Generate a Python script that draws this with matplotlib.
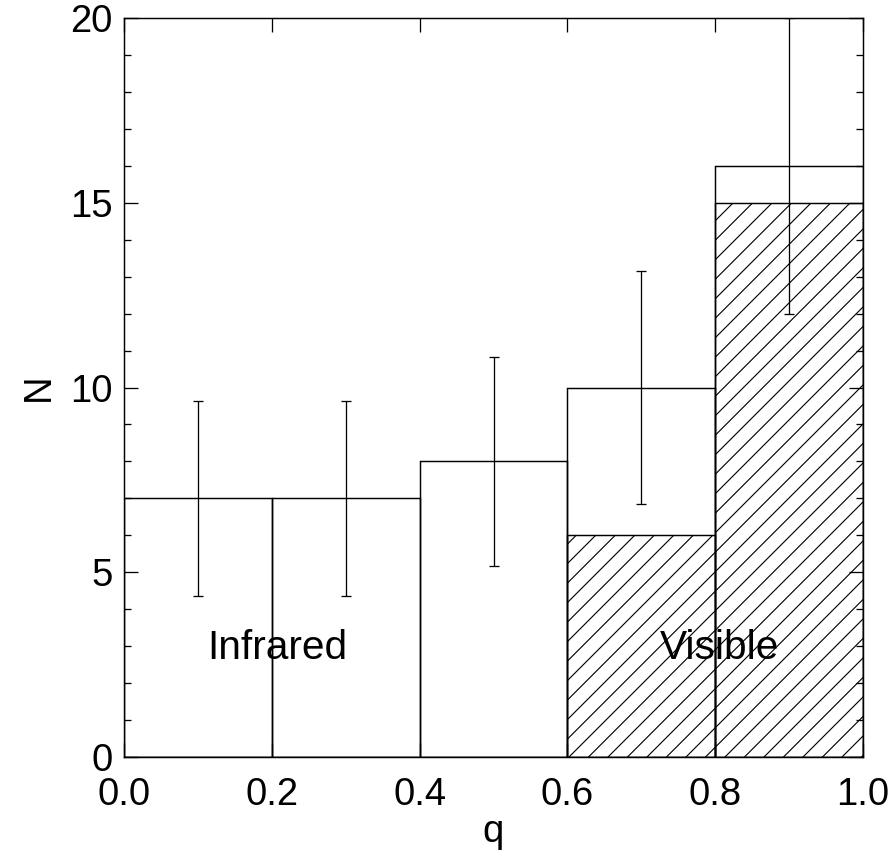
"""
Mass-ratio histogram: all systems with Poisson errors, visible subset hatched.
"""

import numpy as np
import matplotlib
matplotlib.use('Agg')
import matplotlib.pyplot as plt

# histogram bins in q
bin_left = [0.0, 0.2, 0.4, 0.6, 0.8]
bin_width = 0.2
n_total = [7, 7, 8, 10, 16]
n_visible = [0, 0, 0, 6, 15]

plt.rcParams['font.family'] = ['Liberation Sans', 'DejaVu Sans']
plt.rcParams['hatch.linewidth'] = 0.7

fig = plt.figure(figsize=(893 / 117, 858 / 117), dpi=117)
ax = fig.add_axes([0.1389, 0.1177, 0.8275, 0.8613])

# all systems, open boxes
ax.bar(bin_left, n_total, width=bin_width, align='edge',
       fill=False, edgecolor='black', linewidth=0.9)

# visible systems, hatched
ax.bar(bin_left, n_visible, width=bin_width, align='edge',
       fill=False, edgecolor='black', linewidth=0.9, hatch='//')

# Poisson errors at bin centres
centres = np.array(bin_left) + bin_width / 2
errs = np.sqrt(n_total)
ax.errorbar(centres, n_total, yerr=errs, fmt='none', ecolor='black',
            elinewidth=0.8, capsize=3.1, capthick=0.8)

ax.text(0.112, 2.65, 'Infrared', fontsize=25, va='baseline', ha='left')
ax.text(0.725, 2.65, 'Visible', fontsize=25, va='baseline', ha='left')

ax.set_xlim(0, 1)
ax.set_ylim(0, 20)
ax.set_xticks([0.0, 0.2, 0.4, 0.6, 0.8, 1.0])
ax.set_xticklabels(['0.0', '0.2', '0.4', '0.6', '0.8', '1.0'])
ax.set_yticks([0, 5, 10, 15, 20])
ax.set_yticks(np.arange(0, 21, 1), minor=True)

ax.tick_params(which='both', direction='in', top=True, right=True,
               labelsize=23.5, width=0.8)
ax.tick_params(which='major', length=8.6)
ax.tick_params(which='minor', length=4.3)
ax.tick_params(axis='x', pad=12)
ax.tick_params(axis='y', pad=7)

for s in ax.spines.values():
    s.set_linewidth(0.9)

ax.set_xlabel('q', fontsize=23.5, labelpad=1)
ax.set_ylabel('N', fontsize=23.5, labelpad=8)

plt.savefig('out.png', dpi=117)
plt.close()
